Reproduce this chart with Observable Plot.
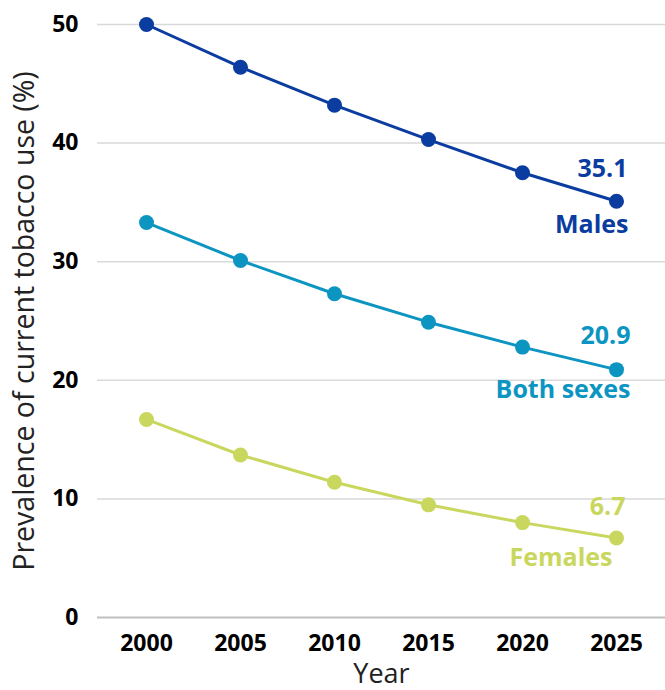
<!DOCTYPE html>
<html>
<head>
<meta charset="utf-8">
<script src="https://cdn.jsdelivr.net/npm/d3@7"></script>
<script src="https://cdn.jsdelivr.net/npm/@observablehq/plot@0.6"></script>
<style>
  html, body { margin: 0; padding: 0; background: #fff; }
  #chart svg { font-family: "Open Sans", sans-serif; }
  #chart svg g[aria-label="x-axis tick label"],
  #chart svg g[aria-label="y-axis tick label"] { font-size: 23px; font-weight: bold; }
</style>
</head>
<body>
<div id="chart"></div>
<script>
const years = [2000, 2005, 2010, 2015, 2020, 2025];
const males = [50.0, 46.4, 43.2, 40.3, 37.5, 35.1];
const both = [33.3, 30.1, 27.3, 24.9, 22.8, 20.9];
const females = [16.7, 13.7, 11.4, 9.5, 8.0, 6.7];
const seriesNames = ["Males", "Both sexes", "Females"];
const yTicks = [0, 10, 20, 30, 40, 50];
const colors = {"Males": "#0b3c9f", "Both sexes": "#0d95c2", "Females": "#c9d75e"};

const seriesValues = {"Males": males, "Both sexes": both, "Females": females};
const data = seriesNames.flatMap(s => years.map((yr, i) => ({series: s, year: yr, value: seriesValues[s][i]})));
const last = seriesNames.map(s => ({series: s, year: years[years.length - 1], value: seriesValues[s][years.length - 1]}));

const labelOpts = {
  "Males": {dyV: -32, dyN: 24, dxV: 11, dxN: 12},
  "Both sexes": {dyV: -34, dyN: 20, dxV: 14, dxN: 14},
  "Females": {dyV: -31, dyN: 20, dxV: 9, dxN: -4}
};

const marks = [
  Plot.ruleY(yTicks.filter(d => d > 0), {stroke: "#d9d9d9", strokeWidth: 1.5}),
  Plot.ruleY([0], {stroke: "#bfbfbf", strokeWidth: 2}),
  Plot.axisY(yTicks, {tickSize: 0, tickPadding: 19, fontSize: 23, fontWeight: "bold", fill: "#000", label: null}),
  Plot.axisX(years, {tickSize: 0, tickPadding: 17, fontSize: 23, fontWeight: "bold", fill: "#000", label: null, tickFormat: d => String(d)}),
  Plot.text(["Year"], {frameAnchor: "bottom", dy: 57, fontSize: 27, fill: "#222", lineAnchor: "middle"}),
  Plot.text(["Prevalence of current tobacco use (%)"], {frameAnchor: "left", dx: -73, rotate: -90, fontSize: 28.5, fill: "#222", textAnchor: "middle", lineAnchor: "middle"}),
  Plot.line(data, {x: "year", y: "value", z: "series", stroke: d => colors[d.series], strokeWidth: 3}),
  Plot.dot(data, {x: "year", y: "value", fill: d => colors[d.series], r: 7.5, stroke: "none"})
];
for (const d of last) {
  const o = labelOpts[d.series];
  marks.push(Plot.text([d], {x: "year", y: "value", text: d => d.value.toFixed(1), fill: colors[d.series], fontSize: 25, fontWeight: "bold", textAnchor: "end", dx: o.dxV, dy: o.dyV, lineAnchor: "middle"}));
  marks.push(Plot.text([d], {x: "year", y: "value", text: d => d.series, fill: colors[d.series], fontSize: 25, fontWeight: "bold", textAnchor: "end", dx: o.dxN, dy: o.dyN, lineAnchor: "middle"}));
}

const chart = Plot.plot({
  width: 665,
  height: 690,
  marginTop: 24,
  marginBottom: 73,
  marginLeft: 97,
  marginRight: 0,
  x: {type: "point", domain: years, padding: 0.5},
  y: {domain: [0, 50]},
  color: {type: "identity"},
  marks
});
document.getElementById("chart").appendChild(chart);
</script>
</body>
</html>
